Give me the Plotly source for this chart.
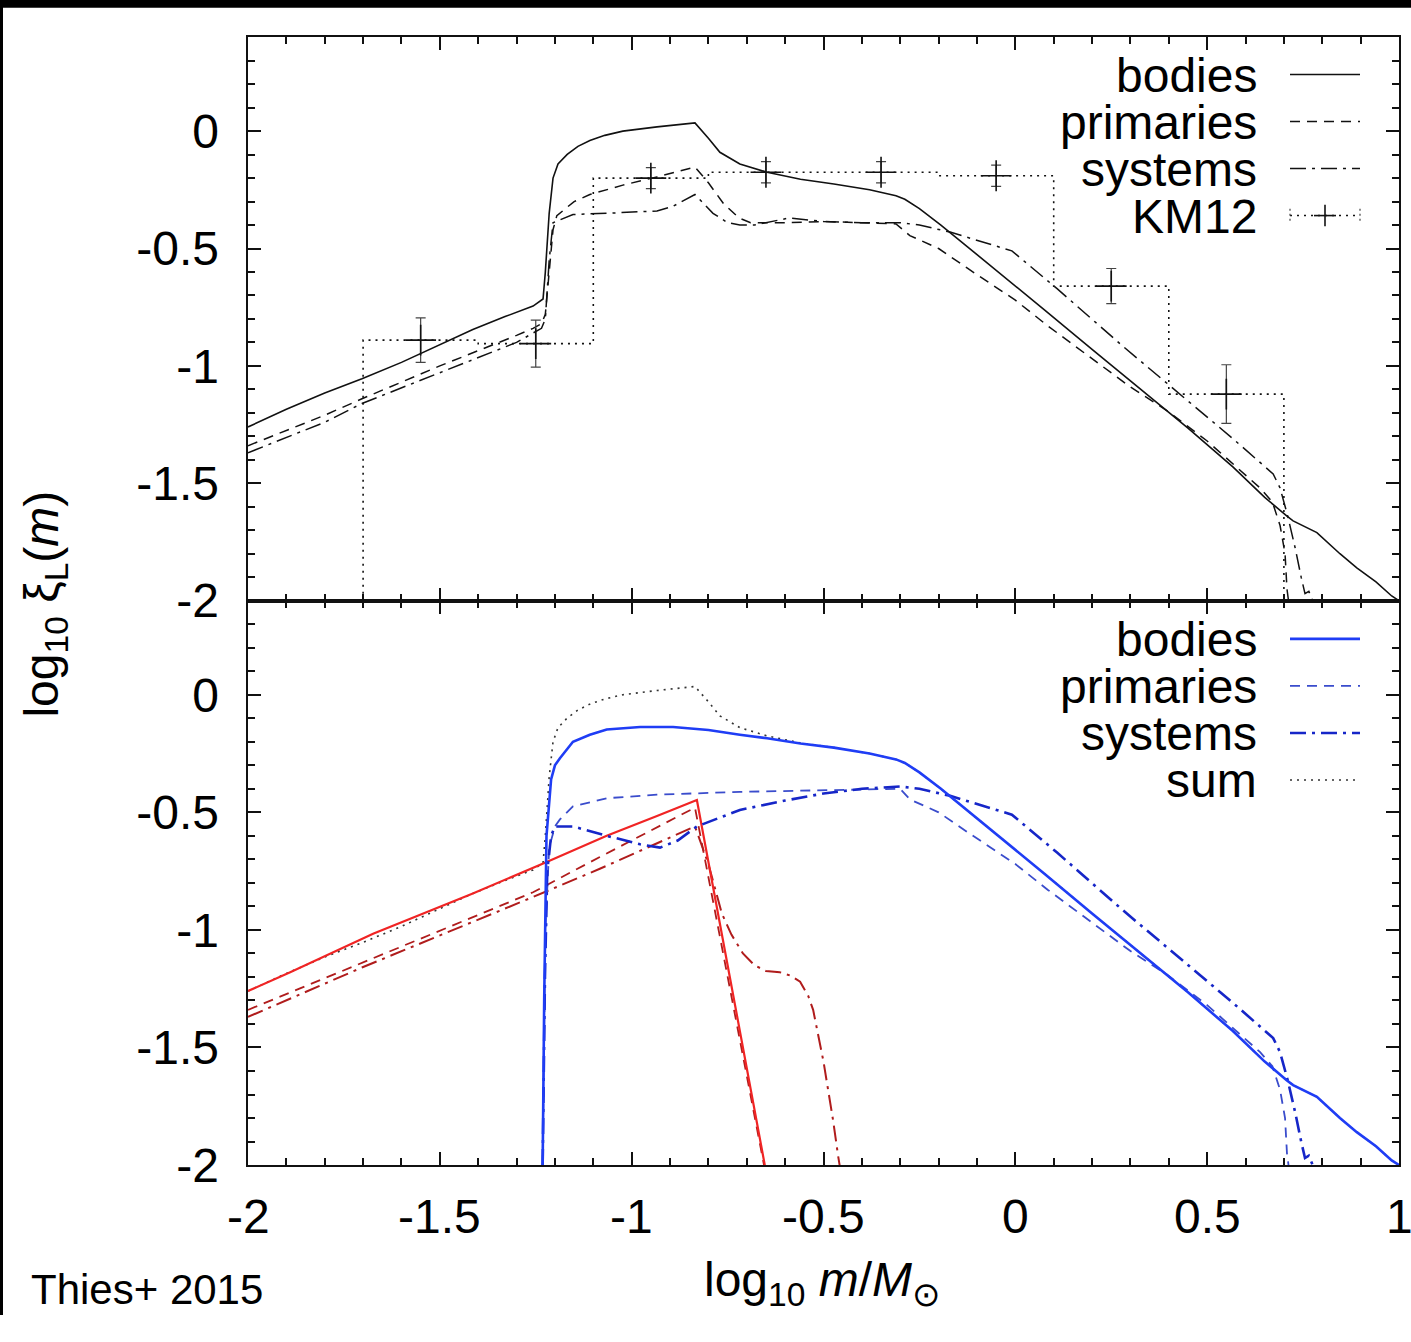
import plotly.graph_objects as go

# ---------------- data ----------------
# Top panel: all objects
bodies_x = [-2.0, -1.9, -1.8, -1.703, -1.6, -1.5, -1.414, -1.33, -1.257, -1.231, -1.225, -1.215,
            -1.205, -1.192, -1.168, -1.14, -1.109, -1.07, -1.023, -0.934, -0.835, -0.80, -0.77,
            -0.718, -0.647, -0.56, -0.473, -0.38, -0.311, -0.288, -0.25, -0.194, -0.1, 0.0, 0.075,
            0.2, 0.341, 0.45, 0.567, 0.65, 0.708, 0.724, 0.786, 0.846, 0.89, 0.94, 0.981, 1.0]
bodies_y = [-1.26, -1.185, -1.115, -1.055, -0.985, -0.91, -0.845, -0.79, -0.745, -0.715, -0.60, -0.35,
            -0.20, -0.14, -0.099, -0.065, -0.04, -0.018, 0.0, 0.018, 0.035, -0.03, -0.09,
            -0.14, -0.175, -0.205, -0.225, -0.25, -0.275, -0.29, -0.33, -0.40, -0.525, -0.66, -0.76,
            -0.93, -1.12, -1.265, -1.43, -1.56, -1.64, -1.66, -1.71, -1.80, -1.86, -1.92, -1.98, -2.0]

primaries_x = [-2.0, -1.8, -1.703, -1.5, -1.3, -1.257, -1.235, -1.225, -1.215, -1.205, -1.195, -1.15,
               -1.109, -1.023, -0.934, -0.835, -0.80, -0.76, -0.72, -0.69, -0.6, -0.5, -0.4, -0.311,
               -0.275, -0.2, -0.124, 0.0, 0.085, 0.2, 0.3, 0.395, 0.5, 0.638, 0.67, 0.69, 0.703,
               0.708, 0.712]
primaries_y = [-1.34, -1.21, -1.14, -1.0, -0.87, -0.84, -0.82, -0.78, -0.6, -0.42, -0.36, -0.30,
               -0.27, -0.23, -0.195, -0.153, -0.22, -0.31, -0.37, -0.39, -0.39, -0.385, -0.39, -0.395,
               -0.445, -0.50, -0.585, -0.72, -0.83, -0.97, -1.09, -1.19, -1.32, -1.52, -1.58, -1.68,
               -1.8, -1.95, -2.0]

systems_x = [-2.0, -1.8, -1.703, -1.5, -1.3, -1.257, -1.235, -1.225, -1.215, -1.205, -1.153, -1.065,
             -0.934, -0.892, -0.835, -0.788, -0.75, -0.718, -0.68, -0.59, -0.5, -0.4, -0.3, -0.25,
             -0.17, -0.009, 0.108, 0.283, 0.437, 0.567, 0.672, 0.69, 0.71, 0.73, 0.745, 0.755,
             0.765, 0.775]
systems_y = [-1.37, -1.24, -1.16, -1.03, -0.90, -0.86, -0.84, -0.80, -0.55, -0.39, -0.355, -0.35,
             -0.34, -0.32, -0.27, -0.35, -0.39, -0.40, -0.40, -0.37, -0.385, -0.39, -0.39, -0.40,
             -0.43, -0.51, -0.67, -0.92, -1.13, -1.31, -1.46, -1.52, -1.64, -1.78, -1.90, -1.97,
             -1.96, -2.0]

# KM12 binned data
km12_edges = [-1.7, -1.4, -1.1, -0.8, -0.5, -0.2, 0.1, 0.4, 0.7]
km12_values = [-0.89, -0.905, -0.20, -0.175, -0.175, -0.19, -0.66, -1.12]
km12_errors = [0.095, 0.10, 0.045, 0.045, 0.045, 0.045, 0.075, 0.125]

# Bottom panel: brown dwarfs (red) and stars (blue)
bd_bodies_x = [-2.0, -1.89, -1.674, -1.414, -1.22, -1.065, -0.934, -0.83, -0.653]
bd_bodies_y = [-1.26, -1.18, -1.016, -0.845, -0.71, -0.60, -0.516, -0.448, -2.0]

bd_primaries_x = [-2.0, -1.703, -1.257, -1.083, -0.835, -0.655]
bd_primaries_y = [-1.34, -1.14, -0.84, -0.69, -0.48, -2.0]

bd_systems_x = [-2.0, -1.703, -1.257, -1.083, -0.835, -0.80, -0.765, -0.74, -0.71, -0.68, -0.65,
                -0.614, -0.585, -0.561, -0.54, -0.527, -0.50, -0.475, -0.462, -0.458]
bd_systems_y = [-1.37, -1.16, -0.86, -0.74, -0.56, -0.72, -0.93, -1.02, -1.10, -1.15, -1.175,
                -1.18, -1.195, -1.22, -1.28, -1.34, -1.56, -1.81, -1.96, -2.0]

st_bodies_x = [-1.232, -1.228, -1.222, -1.21, -1.2, -1.187, -1.153, -1.109, -1.065, -0.978, -0.892,
               -0.80, -0.718, -0.647, -0.56, -0.473, -0.38, -0.311, -0.288, -0.25, -0.194, -0.1,
               0.0, 0.075, 0.2, 0.341, 0.45, 0.567, 0.65, 0.708, 0.724, 0.786, 0.846, 0.89, 0.94,
               0.981, 1.0]
st_bodies_y = [-2.0, -1.3, -0.6, -0.36, -0.30, -0.27, -0.20, -0.17, -0.148, -0.137, -0.137,
               -0.15, -0.17, -0.185, -0.207, -0.225, -0.25, -0.275, -0.29, -0.33, -0.40, -0.525,
               -0.66, -0.76, -0.93, -1.12, -1.265, -1.43, -1.56, -1.64, -1.66, -1.71, -1.80, -1.86,
               -1.92, -1.98, -2.0]

st_primaries_x = [-1.232, -1.225, -1.215, -1.2, -1.187, -1.153, -1.065, -0.934, -0.718, -0.5, -0.3,
                  -0.275, -0.2, -0.124, 0.0, 0.085, 0.2, 0.3, 0.395, 0.5, 0.638, 0.67, 0.69, 0.703,
                  0.708, 0.712]
st_primaries_y = [-2.0, -1.0, -0.65, -0.56, -0.53, -0.475, -0.44, -0.425, -0.413, -0.405, -0.40,
                  -0.445, -0.50, -0.585, -0.72, -0.83, -0.97, -1.09, -1.19, -1.32, -1.52, -1.58,
                  -1.68, -1.8, -1.95, -2.0]

st_systems_x = [-1.232, -1.226, -1.22, -1.21, -1.2, -1.153, -1.065, -0.978, -0.926, -0.88, -0.83,
                -0.718, -0.6, -0.5, -0.4, -0.3, -0.25, -0.17, -0.009, 0.108, 0.283, 0.437, 0.567,
                0.672, 0.69, 0.71, 0.73, 0.745, 0.755, 0.765, 0.775]
st_systems_y = [-2.0, -1.2, -0.75, -0.6, -0.56, -0.56, -0.60, -0.636, -0.65, -0.62, -0.56,
                -0.49, -0.45, -0.42, -0.40, -0.39, -0.40, -0.43, -0.51, -0.67, -0.92, -1.13, -1.31,
                -1.46, -1.52, -1.64, -1.78, -1.90, -1.97, -1.96, -2.0]

# axis ticks
x_tickvals = [-2, -1.5, -1, -0.5, 0, 0.5, 1]
x_ticktext = ["-2", "-1.5", "-1", "-0.5", "0", "0.5", "1"]
y_tickvals = [0, -0.5, -1, -1.5, -2]
y_ticktext = ["0", "-0.5", "-1", "-1.5", "-2"]

legend_top = ["bodies", "primaries", "systems", "KM12"]
legend_bottom = ["bodies", "primaries", "systems", "sum"]

# ---------------- styling ----------------
W, H = 1411, 1342
FONT = "Liberation Sans, Arial, Helvetica, sans-serif"
DASH = "10px,7px"
DASHDOT = "16px,6px,3px,6px"
DOT = "2px,5px"
BLACK = "#111111"
BLUE = "#1f3df5"
BLUE_P = "#3a4ccc"
BLUE_S = "#1626c8"
RED = "#f02424"
DRED = "#b01c1c"
PAD = "\u2008\u200a"  # small trailing gap between y tick labels and the axis


def px(x):
    return x / W


def py(y):
    return 1 - y / H


fig = go.Figure()

# ----- top panel (x2, y) -----
fig.add_trace(go.Scatter(x=bodies_x, y=bodies_y, mode="lines", xaxis="x2", yaxis="y",
                         line=dict(color=BLACK, width=1.6)))
fig.add_trace(go.Scatter(x=primaries_x, y=primaries_y, mode="lines", xaxis="x2", yaxis="y",
                         line=dict(color=BLACK, width=1.5, dash=DASH)))
fig.add_trace(go.Scatter(x=systems_x, y=systems_y, mode="lines", xaxis="x2", yaxis="y",
                         line=dict(color=BLACK, width=1.5, dash=DASHDOT)))

hist_x = [km12_edges[0]] + km12_edges[:-1] + [km12_edges[-1], km12_edges[-1]]
hist_y = [-2.0] + km12_values + [km12_values[-1], -2.0]
fig.add_trace(go.Scatter(x=hist_x, y=hist_y, mode="lines", xaxis="x2", yaxis="y",
                         line=dict(color=BLACK, width=1.6, dash=DOT, shape="hv")))
km12_centers = [(a + b) / 2 for a, b in zip(km12_edges[:-1], km12_edges[1:])]
fig.add_trace(go.Scatter(x=km12_centers, y=km12_values, mode="markers", xaxis="x2", yaxis="y",
                         marker=dict(symbol="cross-thin", size=22, color=BLACK,
                                     line=dict(color=BLACK, width=1.6)),
                         error_y=dict(type="data", array=km12_errors, visible=True,
                                      color="#444444", thickness=1.2, width=5)))

# ----- bottom panel (x, y2) -----
fig.add_trace(go.Scatter(x=bodies_x, y=bodies_y, mode="lines", xaxis="x", yaxis="y2",
                         line=dict(color="#333333", width=1.6, dash=DOT)))
fig.add_trace(go.Scatter(x=bd_primaries_x, y=bd_primaries_y, mode="lines", xaxis="x", yaxis="y2",
                         line=dict(color=DRED, width=1.8, dash=DASH)))
fig.add_trace(go.Scatter(x=bd_systems_x, y=bd_systems_y, mode="lines", xaxis="x", yaxis="y2",
                         line=dict(color=DRED, width=2.0, dash=DASHDOT)))
fig.add_trace(go.Scatter(x=bd_bodies_x, y=bd_bodies_y, mode="lines", xaxis="x", yaxis="y2",
                         line=dict(color=RED, width=2.2)))
fig.add_trace(go.Scatter(x=st_primaries_x, y=st_primaries_y, mode="lines", xaxis="x", yaxis="y2",
                         line=dict(color=BLUE_P, width=1.8, dash=DASH)))
fig.add_trace(go.Scatter(x=st_systems_x, y=st_systems_y, mode="lines", xaxis="x", yaxis="y2",
                         line=dict(color=BLUE_S, width=2.6, dash=DASHDOT)))
fig.add_trace(go.Scatter(x=st_bodies_x, y=st_bodies_y, mode="lines", xaxis="x", yaxis="y2",
                         line=dict(color=BLUE, width=2.6)))

# ----- axes -----
X0, X1 = 248, 1399
YT, YM, YB = 38, 613, 1189
common_x = dict(range=[-2, 1], domain=[px(X0), px(X1)], tickmode="array",
                tickvals=x_tickvals, ticks="inside", ticklen=13, showticklabels=False,
                tickwidth=2, tickcolor=BLACK, showline=True, linewidth=2.2, linecolor=BLACK,
                mirror="ticks", showgrid=False, zeroline=False,
                minor=dict(dtick=0.1, ticks="inside", ticklen=7, tickwidth=1.6,
                           tickcolor=BLACK, showgrid=False))
common_y = dict(range=[-2, 0.4], tickmode="array", tickvals=y_tickvals,
                ticktext=[t + PAD for t in y_ticktext],
                ticks="inside", ticklen=13, tickwidth=2, tickcolor=BLACK, showline=True,
                linewidth=2.2, linecolor=BLACK, mirror="ticks", showgrid=False, zeroline=False,
                minor=dict(dtick=0.1, ticks="inside", ticklen=7, tickwidth=1.6,
                           tickcolor=BLACK, showgrid=False),
                tickfont=dict(family=FONT, size=48, color="black"))

fig.update_layout(
    width=W, height=H, autosize=False,
    margin=dict(l=0, r=0, t=0, b=0),
    paper_bgcolor="white", plot_bgcolor="white",
    showlegend=False,
    xaxis=dict(anchor="y2", **common_x),
    xaxis2=dict(anchor="y", matches="x", **common_x),
    yaxis=dict(anchor="x2", domain=[py(YM), py(YT)], **common_y),
    yaxis2=dict(anchor="x", domain=[py(YB), py(YM)], **common_y),
)

shapes = []
annotations = []

# x tick labels placed on the x scale below the bottom axis
for v, t in zip(x_tickvals, x_ticktext):
    annotations.append(dict(x=v, y=py(1241), xref="x", yref="paper", text=t, showarrow=False,
                            xanchor="center", yanchor="middle",
                            font=dict(family=FONT, size=48, color="black")))

# ----- legends (drawn manually: text right-aligned, sample to the right) -----
TEXT_R = 1259
S0, S1 = 1290, 1360
rows_top = [76, 124, 172, 220]
rows_bot = [652, 700, 748, 796]
top_styles = [dict(color=BLACK, width=1.6), dict(color=BLACK, width=1.5, dash=DASH),
              dict(color=BLACK, width=1.5, dash=DASHDOT), dict(color=BLACK, width=1.6, dash=DOT)]
bot_styles = [dict(color=BLUE, width=2.6), dict(color=BLUE_P, width=1.8, dash=DASH),
              dict(color=BLUE_S, width=2.6, dash=DASHDOT), dict(color="#333333", width=1.6, dash=DOT)]

for labels, rows, styles in ((legend_top, rows_top, top_styles), (legend_bottom, rows_bot, bot_styles)):
    for lab, yy, st in zip(labels, rows, styles):
        annotations.append(dict(x=px(TEXT_R), y=py(yy + 1), xref="paper", yref="paper", text=lab,
                                showarrow=False, xanchor="right", yanchor="middle",
                                font=dict(family=FONT, size=48, color="black")))
        shapes.append(dict(type="line", xref="paper", yref="paper", x0=px(S0), x1=px(S1),
                           y0=py(yy), y1=py(yy), line=st))

# KM12 legend sample: cross and end caps
cx, cy = (S0 + S1) / 2, rows_top[3]
shapes.append(dict(type="line", xref="paper", yref="paper", x0=px(cx - 11), x1=px(cx + 11),
                   y0=py(cy), y1=py(cy), line=dict(color=BLACK, width=1.6)))
shapes.append(dict(type="line", xref="paper", yref="paper", x0=px(cx), x1=px(cx),
                   y0=py(cy - 11), y1=py(cy + 11), line=dict(color=BLACK, width=1.6)))
for ex in (S0, S1):
    shapes.append(dict(type="line", xref="paper", yref="paper", x0=px(ex), x1=px(ex),
                       y0=py(cy - 7), y1=py(cy + 7), line=dict(color="#444444", width=1.2, dash="2px,3px")))

# page frame (black band on top, thin line on the left)
shapes.append(dict(type="rect", xref="paper", yref="paper", x0=0, x1=1, y0=py(8), y1=1,
                   fillcolor="black", line=dict(width=0), layer="above"))
shapes.append(dict(type="rect", xref="paper", yref="paper", x0=0, x1=px(3), y0=0, y1=1,
                   fillcolor="black", line=dict(width=0), layer="above"))

# axis titles and credit
annotations.append(dict(x=px(45), y=py(617), xref="paper", yref="paper",
                        text="log<sub>10</sub> ξ<sub>L</sub>(<i>m</i>)", textangle=-90,
                        showarrow=False, xanchor="center", yanchor="middle",
                        font=dict(family=FONT, size=48, color="black")))
annotations.append(dict(x=px(822), y=0, xref="paper", yref="paper",
                        text="log<sub>10</sub> <i>m</i>/<i>M</i><sub>⊙</sub>",
                        showarrow=False, xanchor="center", yanchor="bottom",
                        font=dict(family=FONT, size=48, color="black")))
annotations.append(dict(x=px(29), y=0, xref="paper", yref="paper", text="Thies+ 2015",
                        showarrow=False, xanchor="left", yanchor="bottom",
                        font=dict(family=FONT, size=42, color="black")))

fig.update_layout(shapes=shapes, annotations=annotations)
fig.write_html("out.html")
